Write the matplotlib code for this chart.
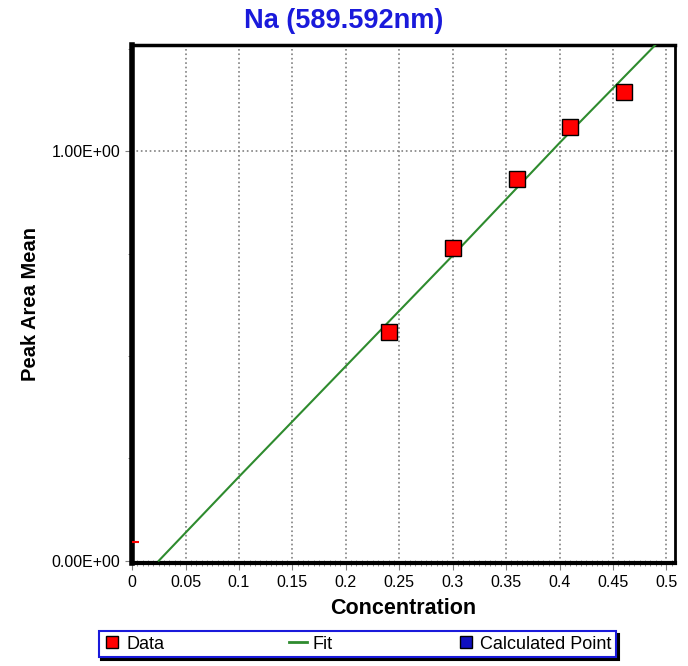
import numpy as np
import matplotlib
matplotlib.use("Agg")
import matplotlib.pyplot as plt
from matplotlib.lines import Line2D
from matplotlib.ticker import MultipleLocator, FuncFormatter

plt.rcParams['font.family'] = ['Liberation Sans', 'DejaVu Sans']

# data
conc = [0.24, 0.30, 0.36, 0.41, 0.46]
peak_area = [0.559, 0.763, 0.932, 1.059, 1.144]

fit_x = [0.025, 0.1, 0.2, 0.3, 0.4, 0.49]
fit_y = [0.0, 0.205, 0.475, 0.745, 1.02, 1.26]

cal_x = [0.002]
cal_y = [0.046]

x_ticks = [0, 0.05, 0.1, 0.15, 0.2, 0.25, 0.3, 0.35, 0.4, 0.45, 0.5]
y_ticks = [0.0, 1.0]
y_labels = ["0.00E+00", "1.00E+00"]

fig = plt.figure(figsize=(6.88, 6.66), dpi=100)
ax = fig.add_axes([0.192, 0.155, 0.789, 0.778])

ax.plot(fit_x, fit_y, color="#2e8b2e", lw=1.5, zorder=3)
ax.plot(conc, peak_area, "s", color="red", mec="black", mew=1.0, ms=11, zorder=4)
ax.plot(cal_x, cal_y, "_", color="red", ms=7, mew=1.5, zorder=4)

ax.set_xlim(0, 0.508)
ax.set_ylim(-0.005, 1.26)
ax.set_xticks(x_ticks)
ax.xaxis.set_major_formatter(FuncFormatter(lambda v, p: "%g" % round(v, 2)))
ax.xaxis.set_minor_locator(MultipleLocator(0.005))
ax.set_yticks(y_ticks)
ax.set_yticklabels(y_labels)
ax.yaxis.set_minor_locator(MultipleLocator(0.25))

ax.tick_params(axis="both", which="major", labelsize=11.5, length=5, color="gray")
ax.tick_params(axis="x", which="minor", direction="inout", length=5, color="gray")
ax.tick_params(axis="y", which="minor", length=3, color="gray")

ax.grid(True, axis="x", which="major", ls=":", color="gray", lw=1.2)
ax.axhline(1.0, ls=":", color="gray", lw=1.2, zorder=1)

ax.spines["left"].set_linewidth(4)
ax.spines["bottom"].set_linewidth(3)
ax.spines["top"].set_linewidth(2.5)
ax.spines["right"].set_linewidth(2)

ax.set_xlabel("Concentration", fontsize=15.5, fontweight="bold", labelpad=6)
ax.set_ylabel("Peak Area Mean", fontsize=14.5, fontweight="bold", labelpad=8)
fig.suptitle("Na (589.592nm)", color="#1a1adb", fontsize=19.5, fontweight="bold", y=0.988)

handles = [
    Line2D([], [], marker="s", ls="none", color="red", mec="black", ms=8),
    Line2D([], [], color="#2e8b2e", lw=2),
    Line2D([], [], marker="s", ls="none", color="#1010c0", mec="black", ms=8),
]
leg = fig.legend(handles, ["Data", "Fit", "Calculated Point"], ncol=3,
                 loc="lower left", bbox_to_anchor=(0.138, 0.008, 0.763, 0.04),
                 mode="expand", fontsize=13, frameon=True, fancybox=False,
                 shadow={"color": "black", "alpha": 1}, handlelength=1.0,
                 handletextpad=0.3, borderpad=0.25, borderaxespad=0.2)
leg.get_frame().set_edgecolor("#1a1adb")
leg.get_frame().set_linewidth(1.5)

fig.savefig("out.png", dpi=100)
